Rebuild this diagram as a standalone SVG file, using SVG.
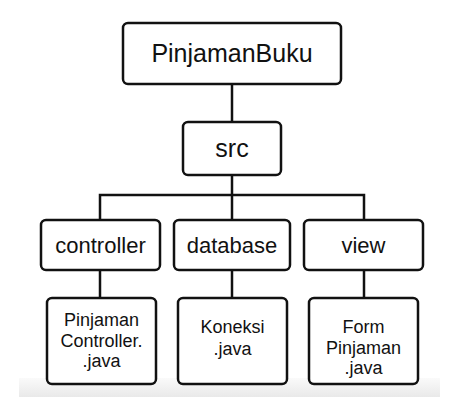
<svg xmlns="http://www.w3.org/2000/svg" width="463" height="403" viewBox="0 0 463 403">
<defs>
<linearGradient id="band" x1="0" y1="0" x2="0" y2="1">
<stop offset="0" stop-color="#fafafa"/>
<stop offset="1" stop-color="#e9e9e9"/>
</linearGradient>
</defs>
<style>
.box{fill:#ffffff;stroke:#111111;stroke-width:2.5}
.t{font-family:"Liberation Sans",Arial,sans-serif;fill:#111111;text-anchor:middle}
.big{font-size:25px}
.mid{font-size:22px}
.sm{font-size:18px}
.con{fill:none;stroke:#111111;stroke-width:2.5}
</style>
<rect x="0" y="0" width="463" height="403" fill="#ffffff"/>
<rect x="19" y="378" width="421" height="19" fill="url(#band)"/>
<g id="connectors">
<path class="con" d="M232,84 V122"/>
<path class="con" d="M232,175 V220"/>
<path class="con" d="M100,220 V195 H364 V220"/>
<path class="con" d="M100,270 V298"/>
<path class="con" d="M232,270 V298"/>
<path class="con" d="M364,270 V298"/>
</g>
<g id="node-pinjamanbuku">
<rect class="box" x="123" y="23" width="218" height="61" rx="5"/>
<text class="t big" x="232" y="62">PinjamanBuku</text>
</g>
<g id="node-src">
<rect class="box" x="183" y="122" width="98" height="53" rx="5"/>
<text class="t big" x="232" y="157">src</text>
</g>
<g id="node-controller">
<rect class="box" x="41" y="220" width="119" height="50" rx="5"/>
<text class="t mid" x="100.5" y="253">controller</text>
</g>
<g id="node-database">
<rect class="box" x="174" y="220" width="116" height="50" rx="5"/>
<text class="t mid" x="232" y="253">database</text>
</g>
<g id="node-view">
<rect class="box" x="304" y="220" width="119" height="50" rx="5"/>
<text class="t mid" x="363.5" y="253">view</text>
</g>
<g id="node-pinjamancontroller">
<rect class="box" x="47" y="298" width="109" height="86" rx="5"/>
<text class="t sm" x="101.5" y="326">Pinjaman</text>
<text class="t sm" x="101.5" y="347">Controller.</text>
<text class="t sm" x="101.5" y="367">.java</text>
</g>
<g id="node-koneksi">
<rect class="box" x="178" y="298" width="109" height="86" rx="5"/>
<text class="t sm" x="232.5" y="333">Koneksi</text>
<text class="t sm" x="232.5" y="355">.java</text>
</g>
<g id="node-formpinjaman">
<rect class="box" x="309" y="298" width="109" height="86" rx="5"/>
<text class="t sm" x="363.5" y="333">Form</text>
<text class="t sm" x="363.5" y="354">Pinjaman</text>
<text class="t sm" x="363.5" y="374">.java</text>
</g>
</svg>
